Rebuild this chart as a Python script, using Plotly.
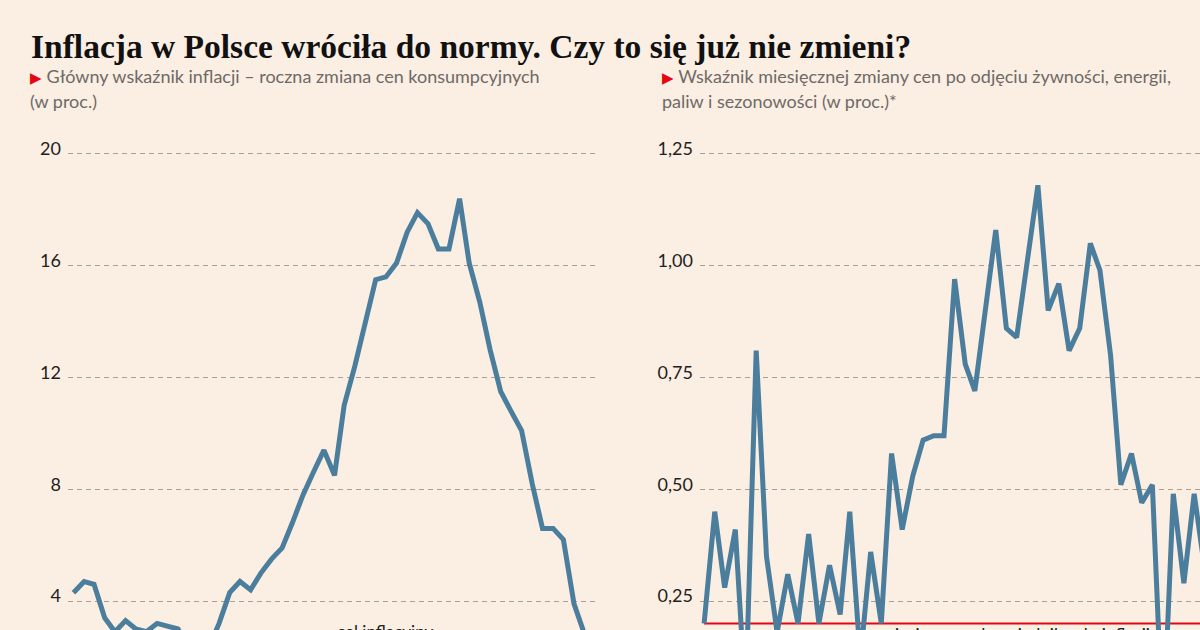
"""Inflacja w Polsce: CPI r/r oraz bazowa m/m (dwa panele)."""
import pandas as pd
import plotly.graph_objects as go

BG = "#fbeee3"
LINE = "#4b7d9c"
RED = "#e30613"
GRID = "#a8a097"
FONT = "Lato, 'Open Sans', sans-serif"

# roczna zmiana cen konsumpcyjnych, sty 2020 - mar 2024
cpi_months = pd.date_range("2020-01-01", periods=51, freq="MS")
cpi_yoy = [
    4.3, 4.7, 4.6, 3.4, 2.9, 3.3, 3.0, 2.9, 3.2, 3.1, 3.0, 2.4,
    2.6, 2.4, 3.2, 4.3, 4.7, 4.4, 5.0, 5.5, 5.9, 6.8, 7.8, 8.6,
    9.4, 8.5, 11.0, 12.4, 13.9, 15.5, 15.6, 16.1, 17.2, 17.9, 17.5, 16.6,
    16.6, 18.4, 16.1, 14.7, 13.0, 11.5, 10.8, 10.1, 8.2, 6.6, 6.6, 6.2,
    3.9, 2.8, 2.0,
]
cpi_target = 2.5

# miesieczna zmiana cen bazowych (sa), sty 2020 - sty 2024
core_months = pd.date_range("2020-01-01", periods=49, freq="MS")
core_mom = [
    0.20, 0.45, 0.28, 0.41, 0.03, 0.81, 0.35, 0.18, 0.31, 0.20, 0.40, 0.20,
    0.33, 0.22, 0.45, 0.12, 0.36, 0.20, 0.58, 0.41, 0.53, 0.61, 0.62, 0.62,
    0.97, 0.78, 0.72, 0.90, 1.08, 0.86, 0.84, 1.01, 1.18, 0.90, 0.96, 0.81,
    0.86, 1.05, 0.99, 0.80, 0.51, 0.58, 0.47, 0.51, -0.05, 0.49, 0.29, 0.49,
    0.32,
]
core_target = 0.2

left_ticks = [4, 8, 12, 16, 20]
right_ticks = [0.25, 0.50, 0.75, 1.00, 1.25]
right_ticktext = ["0,25", "0,50", "0,75", "1,00", "1,25"]

TITLE = "Inflacja w Polsce wróciła do normy. Czy to się już nie zmieni?"
SUB_LEFT = ["Główny wskaźnik inflacji – roczna zmiana cen konsumpcyjnych", "(w proc.)"]
SUB_RIGHT = ["Wskaźnik miesięcznej zmiany cen po odjęciu żywności, energii,",
             "paliw i sezonowości (w proc.)*"]

W, H, TOP = 1200, 630, 140


def py(pix):
    # piksel (od gory) -> wspolrzedna paper
    return (H - pix) / (H - TOP)


fig = go.Figure()
fig.add_trace(go.Scatter(x=cpi_months, y=cpi_yoy, mode="lines", xaxis="x", yaxis="y",
                         line={"color": LINE, "width": 5}, showlegend=False))
fig.add_trace(go.Scatter(x=[core_months[0], core_months[-1]], y=[core_target] * 2,
                         mode="lines", xaxis="x2", yaxis="y2",
                         line={"color": RED, "width": 2}, showlegend=False))
fig.add_trace(go.Scatter(x=[cpi_months[0], cpi_months[-1]], y=[cpi_target] * 2,
                         mode="lines", xaxis="x", yaxis="y",
                         line={"color": RED, "width": 2}, showlegend=False))
fig.add_trace(go.Scatter(x=core_months, y=core_mom, mode="lines", xaxis="x2", yaxis="y2",
                         line={"color": LINE, "width": 5}, showlegend=False))

yax = dict(showgrid=True, gridcolor=GRID, griddash="5px,4px", gridwidth=1,
           zeroline=False, showline=False, ticks="", automargin=False,
           tickfont={"family": FONT, "size": 18, "color": "#222222"},
           ticklabelshift=-5, ticklabelstandoff=6)
xax = dict(showgrid=False, zeroline=False, showline=False, showticklabels=False,
           ticks="", automargin=False, type="date")

fig.update_layout(
    width=W, height=H,
    paper_bgcolor=BG, plot_bgcolor=BG,
    margin={"l": 0, "r": 0, "t": TOP, "b": 0},
    xaxis={**xax, "domain": [68 / W, 598 / W], "range": ["2019-12-16", "2024-03-11"]},
    xaxis2={**xax, "domain": [700 / W, 1.0], "range": ["2019-12-20", "2023-12-18"]},
    yaxis={**yax, "anchor": "x", "range": [2.964, 20.5], "tickvals": left_ticks},
    yaxis2={**yax, "anchor": "x2", "range": [0.18527, 1.28125],
            "tickvals": right_ticks, "ticktext": right_ticktext},
)

ann = []
ann.append(dict(text=f"<b>{TITLE}</b>", x=29 / W, y=py(47), xanchor="left", yanchor="middle",
                font={"family": "Liberation Serif, serif", "size": 33.5, "color": "#111111"}))


def subtitle(lines, x0):
    tri = f"<span style='color:{RED};font-size:15px'>▶</span> "
    for i, s in enumerate(lines):
        ann.append(dict(text=(tri + s) if i == 0 else s, x=x0 / W, y=py(76 + 25 * i),
                        xanchor="left", yanchor="middle",
                        font={"family": FONT, "size": 18, "color": "#6e6a66"}))


subtitle(SUB_LEFT, 28)
subtitle(SUB_RIGHT, 660)

ann.append(dict(text="cel inflacyjny", x=385 / W, y=py(619), xanchor="center", yanchor="top",
                font={"family": FONT, "size": 17, "color": "#222222"}))
ann.append(dict(text="miesięczny odpowiednik celu inflacji", x=1015 / W, y=py(622),
                xanchor="center", yanchor="top",
                font={"family": FONT, "size": 17, "color": "#222222"}))

for a in ann:
    a.update(xref="paper", yref="paper", showarrow=False)
fig.update_layout(annotations=ann)

fig.write_html("out.html", config={"displayModeBar": False},
               post_script="document.body.style.margin='0';")
